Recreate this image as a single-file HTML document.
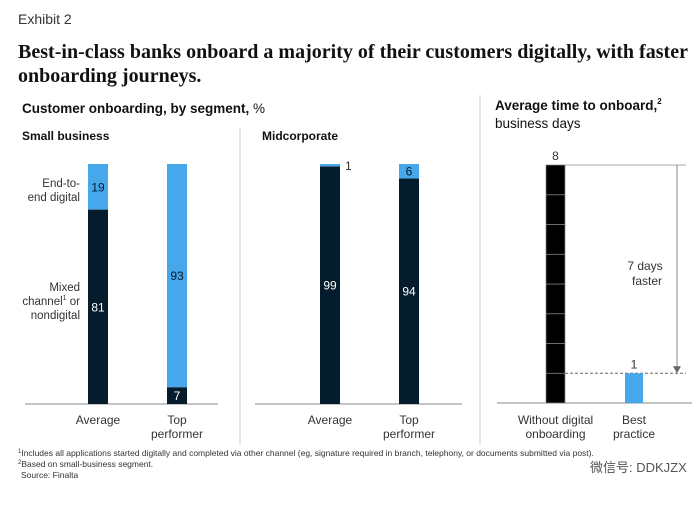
<!DOCTYPE html>
<html><head><meta charset="utf-8"><style>
body{margin:0;background:#fff;}
svg text{font-family:"Liberation Sans",sans-serif;}
</style></head><body>
<svg id="c" width="700" height="502" xmlns="http://www.w3.org/2000/svg">
<text x="18" y="24" font-size="14" fill="#333">Exhibit 2</text>
<text x="18" y="58" font-size="20" font-weight="bold" fill="#111" textLength="670" style="font-family:'Liberation Serif',serif">Best-in-class banks onboard a majority of their customers digitally, with faster</text>
<text x="18" y="82" font-size="20" font-weight="bold" fill="#111" style="font-family:'Liberation Serif',serif">onboarding journeys.</text>
<text x="22" y="113" font-size="13.5" fill="#111"><tspan font-weight="bold">Customer onboarding, by segment,</tspan> %</text>
<text x="495" y="110" font-size="13.5" font-weight="bold" fill="#111">Average time to onboard,<tspan font-size="8" dy="-6">2</tspan></text>
<text x="495" y="128" font-size="13.5" fill="#111">business days</text>
<text x="22" y="140" font-size="12" font-weight="bold" fill="#111">Small business</text>
<text x="262" y="140" font-size="12" font-weight="bold" fill="#111">Midcorporate</text>
<line x1="240" y1="128" x2="240" y2="445" stroke="#ccc"/>
<line x1="480" y1="95" x2="480" y2="445" stroke="#ccc"/>
<g font-size="11.5" fill="#333" text-anchor="end">
<text x="80" y="187">End-to-</text>
<text x="80" y="201">end digital</text>
<text x="80" y="291">Mixed</text>
<text x="80" y="305">channel<tspan font-size="7" dy="-5">1</tspan><tspan dy="5"> or</tspan></text>
<text x="80" y="319">nondigital</text>
</g>
<g id="bars"></g>
<text x="18" y="456" font-size="8.5" fill="#333"><tspan font-size="6" dy="-3">1</tspan><tspan dy="3">Includes all applications started digitally and completed via other channel (eg, signature required in branch, telephony, or documents submitted via post).</tspan></text>
<text x="18" y="467" font-size="8.5" fill="#333"><tspan font-size="6" dy="-3">2</tspan><tspan dy="3">Based on small-business segment.</tspan></text>
<text x="21" y="478" font-size="8.5" fill="#333">Source: Finalta</text>
<text x="590" y="472" font-size="13" fill="#555" style="font-family:'Liberation Sans','Noto Sans CJK SC',sans-serif">微信号: DDKJZX</text>
</svg>
<script>
const segments=["Small business","Midcorporate"];
const groups=["Average","Top performer"];
const mixedVals=[[81,7],[99,94]];
const digitalVals=[[19,93],[1,6]];
const timeCats=["Without digital onboarding","Best practice"];
const timeVals=[8,1];
const NS="http://www.w3.org/2000/svg";
const g=document.getElementById('bars');
function mk(t,a,txt){const e=document.createElementNS(NS,t);for(const k in a)e.setAttribute(k,a[k]);if(txt!=null)e.textContent=txt;g.appendChild(e);return e;}
const base=404,ph=240;
const yP=v=>base-v/100*ph;
const panelX=[[88,167],[320,399]];
const axisX=[[25,218],[255,462]];
const DARK="#051c2c",BLUE="#47a7eb";
segments.forEach((s,si)=>{
  const ax=mk('line',{x1:axisX[si][0],x2:axisX[si][1],y1:base,y2:base,stroke:"#888"});
  
  
  groups.forEach((gr,gi)=>{
    const x=panelX[si][gi],w=20,m=mixedVals[si][gi],d=digitalVals[si][gi];
    const r1=mk('rect',{x:x,y:yP(m),width:w,height:base-yP(m),fill:DARK});
    
    
    const r2=mk('rect',{x:x,y:yP(m+d),width:w,height:yP(m)-yP(m+d),fill:BLUE});
    
    
    const t1=mk('text',{x:x+w/2,y:(yP(m)+base)/2+4.5,'font-size':12,fill:'#fff','text-anchor':'middle'},m);
    
    
    let t2;
    if(d>=5) t2=mk('text',{x:x+w/2,y:(yP(m+d)+yP(m))/2+4.5,'font-size':12,fill:'#051c2c','text-anchor':'middle'},d);
    else t2=mk('text',{x:x+w+5,y:yP(m+d)+6,'font-size':12,fill:'#333'},d);
    
    
    const lab=gr.split(' ');
    lab.forEach((l,li)=>{const t=mk('text',{x:x+w/2,y:424+li*14,'font-size':12,fill:'#333','text-anchor':'middle'},l);
      
      });
  });
});
const tb=403,dayH=29.75;
const yT=v=>tb-v*dayH;
const tx=[546,625],tw=[19,18];
const ax3=mk('line',{x1:497,x2:692,y1:tb,y2:tb,stroke:"#888"});


const l1=mk('line',{x1:tx[0]+tw[0],x2:686,y1:yT(timeVals[0]),y2:yT(timeVals[0]),stroke:'#aaa'});


const l2=mk('line',{x1:tx[0]+tw[0],x2:686,y1:yT(timeVals[1]),y2:yT(timeVals[1]),stroke:'#666','stroke-dasharray':'3,2'});


const ar=mk('line',{x1:677,x2:677,y1:yT(timeVals[0]),y2:yT(timeVals[1])-6,stroke:'#888'});


const ah=mk('path',{d:`M673,${yT(timeVals[1])-7}L681,${yT(timeVals[1])-7}L677,${yT(timeVals[1])}Z`,fill:'#666'});


const d1=mk('text',{x:645,y:270,'font-size':12,fill:'#333','text-anchor':'middle'},(timeVals[0]-timeVals[1])+' days');


const d2=mk('text',{x:647,y:285,'font-size':12,fill:'#333','text-anchor':'middle'},'faster');


timeVals.forEach((v,i)=>{
  if(i===0){for(let k=0;k<v;k++){const r=mk('rect',{x:tx[i],y:yT(k+1),width:tw[i],height:dayH,fill:'#000',stroke:'#888','stroke-width':0.7});
    
    }}
  else{const r=mk('rect',{x:tx[i],y:yT(v),width:tw[i],height:tb-yT(v),fill:BLUE});
    
    }
  const t=mk('text',{x:tx[i]+tw[i]/2,y:yT(v)-5,'font-size':12,fill:'#333','text-anchor':'middle'},v);
  
  
  const labs=i===0?['Without digital','onboarding']:['Best','practice'];
  labs.forEach((l,li)=>{const t2=mk('text',{x:tx[i]+tw[i]/2,y:424+li*14,'font-size':12,fill:'#333','text-anchor':'middle'},l);
    
    });
});
</script>
</body></html>
